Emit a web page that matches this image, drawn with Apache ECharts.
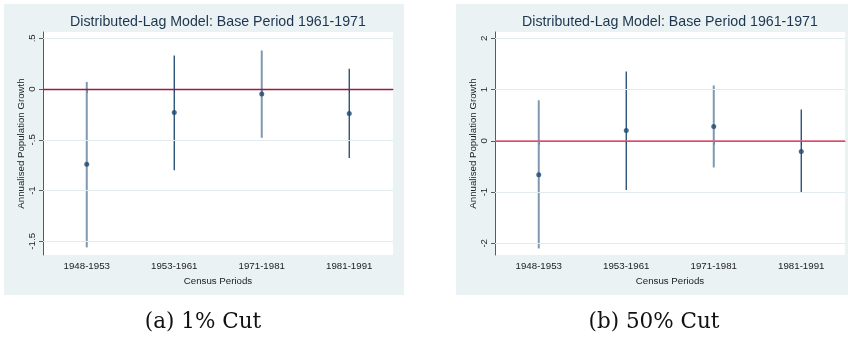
<!DOCTYPE html>
<html>
<head>
<meta charset="utf-8">
<title>Distributed-Lag Model: Base Period 1961-1971</title>
<script src="https://cdn.jsdelivr.net/npm/echarts@6.0.0/dist/echarts.min.js"></script>
<style>
  html, body { margin: 0; padding: 0; background: #ffffff; }
  #chart { width: 848px; height: 338px; }
</style>
</head>
<body>
<div id="chart"></div>
<script>
// Census periods compared with the 1961-1971 base period
const categories = ['1948-1953', '1953-1961', '1971-1981', '1981-1991'];

// (a) 1% cut: point estimates and confidence bounds
const cut1Est = [-0.74, -0.23, -0.05, -0.24];
const cut1Lo  = [-1.56, -0.80, -0.48, -0.68];
const cut1Hi  = [0.07, 0.33, 0.38, 0.20];

// (b) 50% cut: point estimates and confidence bounds
const cut50Est = [-0.66, 0.20, 0.28, -0.21];
const cut50Lo  = [-2.10, -0.96, -0.52, -1.01];
const cut50Hi  = [0.79, 1.35, 1.08, 0.61];

// y-axis ticks and their Stata-style labels
const cut1Ticks = [-1.5, -1, -0.5, 0, 0.5];
const cut1TickLabels = ['-1.5', '-1', '-.5', '0', '.5'];
const cut50Ticks = [-2, -1, 0, 1, 2];
const cut50TickLabels = ['-2', '-1', '0', '1', '2'];

const titleText = 'Distributed-Lag Model: Base Period 1961-1971';
const captions = ['(a) 1% Cut', '(b) 50% Cut'];

const SANS = '"Liberation Sans", Arial, sans-serif';
const SERIF = '"DejaVu Serif", "Liberation Serif", serif';
const NAVY = '#1a476f';
const CI_LIGHT = '#7f98b0';
const GRID_COLOR = '#e2ebee';
const AXIS_COLOR = '#5a5a5a';
const LABEL_COLOR = '#222222';
const FS = 9.7;

const grids = [
  { left: 43, top: 32, width: 350, height: 223 },
  { left: 495, top: 32, width: 350, height: 223 }
];
const yRanges = [[-1.635, 0.562], [-2.228, 2.123]];
const panelTicks = [cut1Ticks, cut50Ticks];
const panelTickLabels = [cut1TickLabels, cut50TickLabels];
const zeroColors = ['#9e1a3c', '#e05a76'];
const zeroWidths = [1.3, 1.6];

function xAxisFor(i) {
  return {
    type: 'category', gridIndex: i, data: categories, boundaryGap: true,
    name: 'Census Periods', nameLocation: 'middle', nameGap: 17,
    nameTextStyle: { fontFamily: SANS, fontSize: FS, color: LABEL_COLOR },
    axisLine: { show: true, lineStyle: { color: AXIS_COLOR, width: 1 } },
    axisTick: { show: true, alignWithLabel: true, length: 4, lineStyle: { color: AXIS_COLOR } },
    axisLabel: { fontFamily: SANS, fontSize: FS, color: LABEL_COLOR, margin: 6, interval: 0 },
    splitLine: { show: false }
  };
}

function yAxisFor(i) {
  const ticks = panelTicks[i], labels = panelTickLabels[i];
  return {
    type: 'value', gridIndex: i, min: yRanges[i][0], max: yRanges[i][1],
    name: 'Annualised Population Growth', nameLocation: 'middle', nameGap: 17,
    nameTextStyle: { fontFamily: SANS, fontSize: FS, color: LABEL_COLOR },
    axisLine: { show: true, lineStyle: { color: AXIS_COLOR, width: 1 } },
    axisTick: { show: true, length: 4, customValues: ticks, lineStyle: { color: AXIS_COLOR } },
    axisLabel: {
      fontFamily: SANS, fontSize: FS, color: LABEL_COLOR, margin: 6, rotate: 90,
      customValues: ticks,
      formatter: function (v) {
        const k = ticks.findIndex(t => Math.abs(t - v) < 1e-9);
        return k >= 0 ? labels[k] : '';
      }
    },
    splitLine: { show: false }
  };
}

function ciData(lo, hi) {
  return categories.map((c, k) => [k, lo[k], hi[k]]);
}

function ciSeries(i, lo, hi) {
  return {
    type: 'custom', xAxisIndex: i, yAxisIndex: i, z: 3,
    data: ciData(lo, hi),
    renderItem: function (params, api) {
      const x = api.value(0);
      const p0 = api.coord([x, api.value(1)]);
      const p1 = api.coord([x, api.value(2)]);
      const light = params.dataIndex % 2 === 0;
      return {
        type: 'line',
        shape: { x1: p0[0], y1: p0[1], x2: p1[0], y2: p1[1] },
        style: { stroke: light ? CI_LIGHT : NAVY, lineWidth: light ? 2 : 1.3 }
      };
    }
  };
}

function gridLineSeries(i) {
  const ticks = panelTicks[i];
  return {
    type: 'line', xAxisIndex: i, yAxisIndex: i, z: 1, data: [], silent: true,
    markLine: {
      silent: true, symbol: 'none', animation: false,
      label: { show: false },
      lineStyle: { color: GRID_COLOR, width: 1, type: 'solid' },
      data: ticks.filter(t => t !== 0).map(t => ({ yAxis: t }))
    }
  };
}

function zeroLineSeries(i) {
  return {
    type: 'line', xAxisIndex: i, yAxisIndex: i, z: 2, data: [], silent: true,
    markLine: {
      silent: true, symbol: 'none', animation: false,
      label: { show: false },
      lineStyle: { color: zeroColors[i], width: zeroWidths[i], type: 'solid' },
      data: [{ yAxis: 0 }]
    }
  };
}

function pointSeries(i, est) {
  return {
    type: 'scatter', xAxisIndex: i, yAxisIndex: i, z: 4,
    data: est.map((v, k) => [k, v]),
    symbol: 'circle', symbolSize: 5,
    itemStyle: { color: NAVY }
  };
}

const chart = echarts.init(document.getElementById('chart'), null, { renderer: 'canvas' });

chart.setOption({
  animation: false,
  backgroundColor: '#ffffff',
  grid: grids.map(g => Object.assign({ show: true, backgroundColor: '#ffffff', borderWidth: 0 }, g)),
  xAxis: [xAxisFor(0), xAxisFor(1)],
  yAxis: [yAxisFor(0), yAxisFor(1)],
  series: [
    gridLineSeries(0), zeroLineSeries(0), ciSeries(0, cut1Lo, cut1Hi), pointSeries(0, cut1Est),
    gridLineSeries(1), zeroLineSeries(1), ciSeries(1, cut50Lo, cut50Hi), pointSeries(1, cut50Est)
  ],
  graphic: [
    { type: 'rect', z: -10, silent: true, shape: { x: 4, y: 4, width: 400, height: 291 }, style: { fill: '#eaf2f3' } },
    { type: 'rect', z: -10, silent: true, shape: { x: 456, y: 4, width: 392, height: 291 }, style: { fill: '#eaf2f3' } },
    { type: 'text', z: 10, x: 218, y: 22.5, style: { text: titleText, fill: '#1e3550', font: '14.2px ' + SANS, textAlign: 'center', textVerticalAlign: 'middle' } },
    { type: 'text', z: 10, x: 670, y: 22.5, style: { text: titleText, fill: '#1e3550', font: '14.2px ' + SANS, textAlign: 'center', textVerticalAlign: 'middle' } },
    { type: 'text', z: 10, x: 203, y: 322, style: { text: captions[0], fill: '#111111', font: '21.5px ' + SERIF, textAlign: 'center', textVerticalAlign: 'middle' } },
    { type: 'text', z: 10, x: 654, y: 322, style: { text: captions[1], fill: '#111111', font: '21.5px ' + SERIF, textAlign: 'center', textVerticalAlign: 'middle' } }
  ]
});
</script>
</body>
</html>
